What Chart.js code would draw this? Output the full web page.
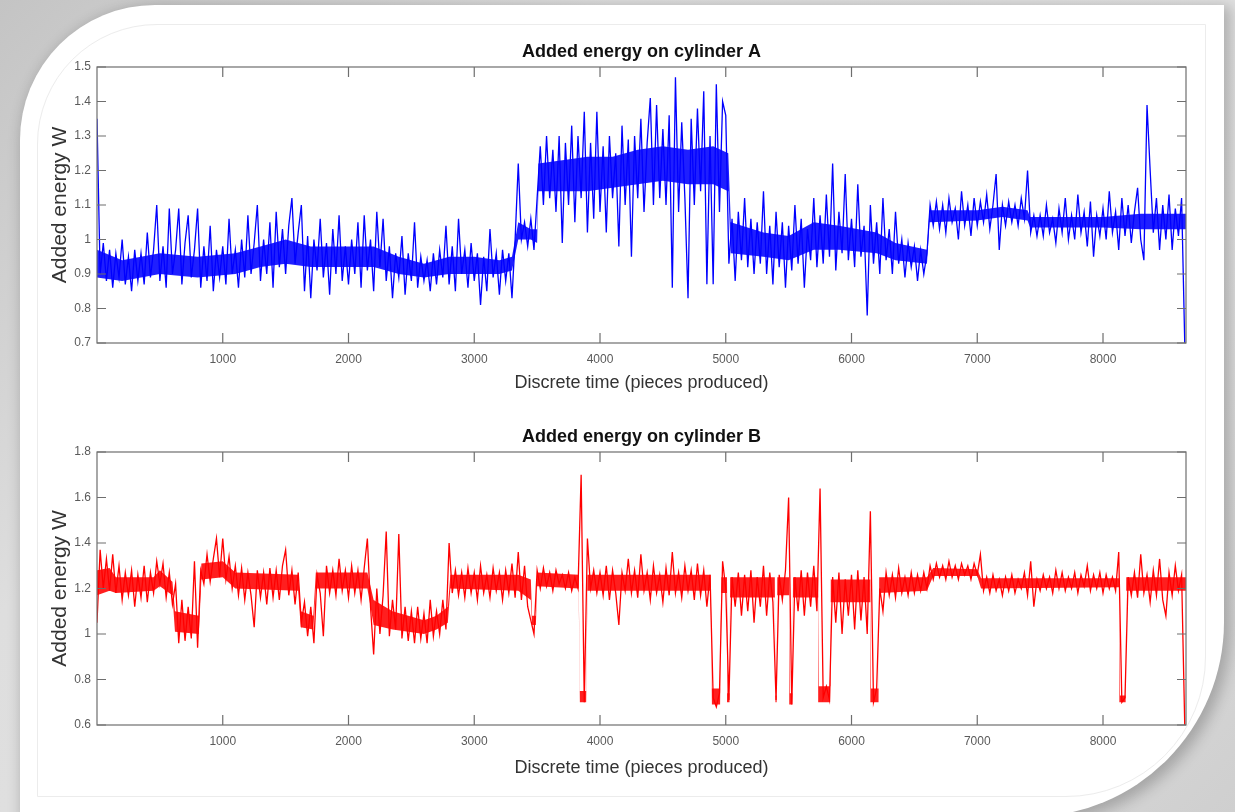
<!DOCTYPE html>
<html>
<head>
<meta charset="utf-8">
<script src="https://cdn.jsdelivr.net/npm/chart.js@4.4.1/dist/chart.umd.min.js"></script>
<style>
  html, body { margin: 0; padding: 0; }
  body {
    width: 1235px; height: 812px; overflow: hidden; position: relative;
    background: linear-gradient(135deg, #c4c4c4 0%, #dedede 30%, #e2e2e2 70%, #cfcfcf 100%);
  }
  .card {
    position: absolute; left: 20px; top: 5px; width: 1204px; height: 812px;
    background: #fff;
    border-radius: 135px 0 195px 0;
    box-shadow: 4px 4px 14px 3px rgba(0, 0, 0, 0.22);
  }
  .inner {
    position: absolute; left: 37px; top: 24px; width: 1167px; height: 771px;
    border: 1px solid #ececec; border-radius: 120px 0 140px 0;
  }
  canvas { position: absolute; left: 0; }
  #chartA { top: 0; }
  #chartB { top: 400px; }
</style>
</head>
<body>
<div class="card"></div>
<div class="inner"></div>
<canvas id="chartA" width="1235" height="400"></canvas>
<canvas id="chartB" width="1235" height="412"></canvas>
<script>
// one sample every 25 pieces
const sampleStep = 25;

const xTickValues = [1000, 2000, 3000, 4000, 5000, 6000, 7000, 8000];
const yTicksA = [0.7, 0.8, 0.9, 1.0, 1.1, 1.2, 1.3, 1.4, 1.5];
const yTicksB = [0.6, 0.8, 1.0, 1.2, 1.4, 1.6, 1.8];

// Added energy on cylinder A (samples incl. spikes)
const energyA = [
  1.35, 0.9, 0.99, 0.88, 0.97, 0.86, 0.96, 0.89, 1.0, 0.87,
  0.95, 0.85, 0.97, 0.88, 0.96, 0.87, 1.02, 0.89, 0.97, 1.1,
  0.88, 0.98, 0.86, 1.09, 0.9, 0.97, 1.09, 0.87, 0.99, 1.07,
  0.89, 0.97, 1.09, 0.86, 0.98, 0.88, 1.04, 0.85, 0.97, 0.89,
  0.98, 0.87, 1.06, 0.9, 0.97, 0.86, 1.0, 0.89, 1.07, 0.9,
  0.99, 1.1, 0.88, 1.0, 0.9, 1.05, 0.86, 1.08, 0.92, 1.03,
  0.9, 1.04, 1.12, 0.93, 1.02, 1.1, 0.85, 1.01, 0.83, 1.0,
  0.91, 1.06, 0.89, 0.99, 0.84, 1.03, 0.9, 1.07, 0.88, 0.98,
  0.87, 1.0, 0.9, 1.05, 0.86, 1.07, 0.91, 1.0, 0.85, 1.08,
  0.92, 1.06, 0.88, 0.98, 0.83, 0.96, 0.89, 1.01, 0.84, 0.96,
  0.88, 1.05, 0.86, 0.95, 0.88, 0.94, 0.85, 0.96, 0.87, 0.97,
  0.89, 1.04, 0.87, 0.98, 0.85, 1.06, 0.9, 0.97, 0.86, 0.99,
  0.88, 0.96, 0.81, 0.95, 0.85, 1.03, 0.89, 0.96, 0.84, 0.97,
  0.88, 0.96, 0.83, 1.0, 1.22, 1.0, 1.05, 0.98, 1.06, 0.97,
  1.12, 1.27, 1.1, 1.3, 1.12, 1.26, 1.08, 1.3, 0.99, 1.28,
  1.1, 1.33, 1.05, 1.3, 1.12, 1.37, 1.02, 1.28, 1.06, 1.37,
  1.08, 1.27, 1.02, 1.3, 1.12, 1.25, 0.98, 1.33, 1.1, 1.29,
  0.95, 1.3, 1.12, 1.35, 1.08, 1.28, 1.41, 1.1, 1.39, 1.12,
  1.32, 1.1, 1.36, 0.86, 1.47, 1.08, 1.34, 1.12, 0.83, 1.35,
  1.1, 1.38, 1.14, 1.43, 0.87, 1.3, 0.87, 1.45, 1.08, 1.4,
  1.36, 0.93, 1.06, 0.88, 1.08, 0.94, 1.12, 0.92, 1.06, 0.9,
  1.05, 0.93, 1.14, 0.9, 1.04, 0.87, 1.08, 0.92, 1.05, 0.86,
  1.04, 0.91, 1.1, 0.93, 1.06, 0.86, 1.03, 0.94, 1.12, 0.92,
  1.07, 0.93, 1.13, 0.95, 1.22, 0.91, 1.08, 0.96, 1.19, 0.94,
  1.06, 0.92, 1.16, 0.95, 1.04, 0.78, 1.1, 0.93, 1.05, 0.9,
  1.12, 0.94, 1.03, 0.9, 1.08, 0.93, 1.0, 0.89, 0.99, 0.92,
  0.98, 0.88, 0.97, 0.9, 0.96, 1.1, 1.04, 1.11, 1.03, 1.1,
  1.02, 1.12, 1.05, 1.09, 1.0, 1.14, 1.04, 1.1, 1.01, 1.12,
  1.04, 1.11, 1.05, 1.13, 1.03, 1.1, 1.19, 0.97, 1.1, 1.04,
  1.11, 1.05, 1.1, 1.04, 1.12, 1.06, 1.2, 1.02, 1.07, 1.01,
  1.07, 1.01, 1.1, 1.02, 1.06, 0.99, 1.09, 1.02, 1.12, 1.0,
  1.07, 1.0, 1.13, 1.02, 1.08, 0.98, 1.11, 0.95, 1.07, 1.01,
  1.09, 1.0, 1.14, 1.02, 1.08, 0.97, 1.12, 1.01, 1.1, 0.99,
  1.08, 1.15, 1.0, 0.94, 1.39, 1.2, 1.02, 1.12, 0.97, 1.1,
  1.0, 1.13, 0.97, 1.09, 1.01, 1.12, 0.7
];

// dense core of cylinder A: breakpoints with lower / upper edge
const coreXA = [
  0, 200, 500, 800, 1100, 1300, 1500, 1700, 2000, 2200, 2400, 2600, 2800, 3000,
  3200, 3300, 3350, 3450, 3500, 3510, 3700, 3900, 4100, 4300, 4500, 4700, 4900,
  5020, 5040, 5300, 5500, 5700, 5900, 6200, 6350, 6600, 6620, 7000, 7200, 7400,
  7420, 7700, 8000, 8300, 8660
];
const coreLowA = [
  0.89, 0.88, 0.9, 0.89, 0.9, 0.92, 0.93, 0.92, 0.92, 0.92, 0.9, 0.89, 0.9, 0.9,
  0.9, 0.91, 1.0, 1.0, 0.99, 1.14, 1.14, 1.14, 1.15, 1.16, 1.17, 1.16, 1.16,
  1.14, 0.96, 0.95, 0.94, 0.97, 0.97, 0.96, 0.94, 0.93, 1.05, 1.055, 1.065, 1.055,
  1.035, 1.035, 1.035, 1.03, 1.03
];
const coreHighA = [
  0.97, 0.94, 0.96, 0.95, 0.96, 0.98, 1.0, 0.98, 0.98, 0.98, 0.95, 0.93, 0.95, 0.95,
  0.94, 0.95, 1.05, 1.03, 1.03, 1.22, 1.23, 1.24, 1.24, 1.26, 1.27, 1.26, 1.27,
  1.25, 1.05, 1.02, 1.01, 1.05, 1.04, 1.02, 0.99, 0.97, 1.085, 1.085, 1.095, 1.085,
  1.065, 1.065, 1.065, 1.075, 1.075
];

// Added energy on cylinder B (samples incl. spikes and drops)
const energyB = [
  1.05, 1.37, 1.2, 1.33, 1.19, 1.35, 1.18, 1.3, 1.15, 1.27,
  1.17, 1.28, 1.12, 1.26, 1.16, 1.3, 1.14, 1.27, 1.18, 1.32,
  1.22, 1.31, 1.16, 1.27, 1.13, 1.22, 0.96, 1.15, 0.97, 1.12,
  0.98, 1.32, 0.94, 1.28, 1.22, 1.35, 1.23, 1.33, 1.42, 1.25,
  1.42, 1.24, 1.34, 1.2, 1.3, 1.17, 1.29, 1.15, 1.27, 1.17,
  1.03, 1.28, 1.16, 1.27, 1.13, 1.29, 1.16, 1.28, 1.15, 1.3,
  1.37, 1.17, 1.28, 1.13, 1.27, 1.05, 1.14, 0.99, 1.12, 0.96,
  1.26, 1.18, 0.99, 1.3, 1.18, 1.28, 1.17, 1.33, 1.19, 1.28,
  1.16, 1.3, 1.18, 1.28, 1.15, 1.29, 1.42, 1.12, 0.91, 1.2,
  1.0, 1.17, 1.45, 0.99, 1.15, 1.02, 1.44, 0.98, 1.12, 0.97,
  1.1, 0.96, 1.12, 0.98, 1.09, 0.96, 1.15, 0.99, 1.1, 1.0,
  1.15, 1.02, 1.4, 1.18, 1.28, 1.17, 1.27, 1.16, 1.29, 1.18,
  1.27, 1.15, 1.3, 1.18, 1.26, 1.16, 1.29, 1.19, 1.27, 1.15,
  1.28, 1.18, 1.31, 1.16, 1.36, 1.15, 1.3, 1.12, 1.06, 1.0,
  1.28, 1.2, 1.29, 1.21, 1.27, 1.19, 1.28, 1.22, 1.26, 1.2,
  1.27, 1.19, 1.25, 1.2, 1.7, 0.7, 1.42, 1.2, 1.28, 1.18,
  1.27, 1.17, 1.3, 1.15, 1.28, 1.18, 1.04, 1.27, 1.19, 1.33,
  1.18, 1.28, 1.16, 1.35, 1.19, 1.27, 1.15, 1.3, 1.18, 1.26,
  1.14, 1.29, 1.17, 1.36, 1.18, 1.27, 1.16, 1.3, 1.19, 1.28,
  1.15, 1.31, 1.17, 1.28, 1.12, 1.26, 0.72, 0.68, 0.74, 1.32,
  1.2, 0.71, 1.25, 1.12, 1.27, 1.08, 1.26, 1.1, 1.28, 1.05,
  1.25, 1.12, 1.3, 1.08, 1.27, 1.14, 0.71, 1.26, 1.15, 1.28,
  1.6, 0.69, 1.25, 1.1, 1.28, 1.08, 1.27, 1.12, 1.3, 1.1,
  1.64, 0.72, 0.77, 0.71, 1.25, 1.05, 1.27, 1.0, 1.24, 1.08,
  1.26, 1.02, 1.28, 1.06, 1.25, 1.0, 1.54, 0.7, 0.76, 1.2,
  1.1, 1.27, 1.17, 1.26, 1.16, 1.29, 1.18, 1.25, 1.17, 1.27,
  1.18, 1.26, 1.19, 1.27, 1.2, 1.3, 1.24, 1.31, 1.25, 1.3,
  1.24, 1.32, 1.25, 1.3, 1.24, 1.31, 1.26, 1.3, 1.24, 1.31,
  1.26, 1.35, 1.19, 1.25, 1.18, 1.26, 1.19, 1.24, 1.17, 1.25,
  1.19, 1.26, 1.18, 1.24, 1.2, 1.27, 1.17, 1.32, 1.12, 1.24,
  1.19, 1.26, 1.2, 1.25, 1.18, 1.28, 1.2, 1.27, 1.19, 1.25,
  1.2, 1.27, 1.18, 1.26, 1.21, 1.3, 1.19, 1.26, 1.2, 1.27,
  1.18, 1.26, 1.2, 1.25, 1.19, 1.36, 0.7, 0.72, 1.25, 1.17,
  1.27, 1.16, 1.35, 1.18, 1.26, 1.14, 1.28, 1.17, 1.33, 1.15,
  1.08, 1.27, 1.17, 1.3, 1.19, 1.26, 0.6
];

// dense core of cylinder B
const coreXB = [
  0, 100, 150, 450, 500, 600, 620, 810, 830, 1000, 1100, 1600, 1620, 1720, 1740,
  2150, 2200, 2350, 2600, 2700, 2790, 2810, 3350, 3450, 3460, 3490, 3500, 3830,
  3840, 3890, 3900, 4880, 4890, 4955, 4965, 5010, 5015, 5030, 5035, 5390, 5395,
  5405, 5410, 5505, 5510, 5530, 5535, 5735, 5740, 5830, 5835, 6150, 6155, 6215,
  6220, 6600, 6650, 7000, 7030, 8130, 8135, 8180, 8185, 8660
];
const coreLowB = [
  1.17, 1.19, 1.18, 1.19, 1.21, 1.17, 1.01, 1.0, 1.24, 1.25, 1.2, 1.19, 1.03, 1.02, 1.2,
  1.2, 1.04, 1.02, 1.0, 1.02, 1.05, 1.2, 1.19, 1.15, 1.04, 1.04, 1.21, 1.2,
  0.7, 0.7, 1.19, 1.19, 0.69, 0.69, 1.18, 1.18, 0.7, 0.7, 1.16, 1.16, 0.7,
  0.7, 1.17, 1.17, 0.69, 0.69, 1.16, 1.16, 0.7, 0.7, 1.14, 1.14, 0.7, 0.7,
  1.18, 1.19, 1.255, 1.255, 1.2, 1.205, 0.7, 0.7, 1.19, 1.19
];
const coreHighB = [
  1.28, 1.29, 1.25, 1.25, 1.28, 1.23, 1.1, 1.08, 1.31, 1.32, 1.27, 1.26, 1.1, 1.08, 1.27,
  1.27, 1.15, 1.1, 1.06, 1.08, 1.12, 1.26, 1.26, 1.24, 1.08, 1.08, 1.27, 1.26,
  0.75, 0.75, 1.26, 1.26, 0.76, 0.76, 1.25, 1.25, 0.74, 0.74, 1.25, 1.25, 0.73,
  0.73, 1.25, 1.25, 0.74, 0.74, 1.25, 1.25, 0.77, 0.77, 1.24, 1.24, 0.76, 0.76,
  1.25, 1.25, 1.29, 1.285, 1.245, 1.245, 0.73, 0.73, 1.25, 1.25
];

const fontFamily = '"Liberation Sans", Arial, Helvetica, sans-serif';

// MATLAB-like box with inward ticks on all four sides
const framePlugin = {
  id: "frame",
  afterDatasetsDraw(chart) {
    const { ctx, chartArea: a, scales: { x, y } } = chart;
    ctx.save();
    ctx.strokeStyle = "#6e6e6e";
    ctx.lineWidth = 1.2;
    ctx.strokeRect(a.left, a.top, a.right - a.left, a.bottom - a.top);
    ctx.beginPath();
    x.ticks.forEach((t) => {
      const px = x.getPixelForValue(t.value);
      ctx.moveTo(px, a.bottom);
      ctx.lineTo(px, a.bottom - 10);
      ctx.moveTo(px, a.top);
      ctx.lineTo(px, a.top + 10);
    });
    y.ticks.forEach((t) => {
      const py = y.getPixelForValue(t.value);
      ctx.moveTo(a.left, py);
      ctx.lineTo(a.left + 9, py);
      ctx.moveTo(a.right, py);
      ctx.lineTo(a.right - 9, py);
    });
    ctx.stroke();
    ctx.restore();
  },
};

function makeChart(canvasId, title, values, coreX, coreLow, coreHigh, color, fillColor, yMin, yMax, yTicks, box) {
  const points = values.map((v, i) => ({ x: i * sampleStep, y: v }));
  const low = coreX.map((x, i) => ({ x: x, y: coreLow[i] }));
  const high = coreX.map((x, i) => ({ x: x, y: coreHigh[i] }));
  return new Chart(document.getElementById(canvasId), {
    type: "line",
    data: {
      datasets: [
        {
          data: points,
          borderColor: color,
          borderWidth: 1.3,
          pointRadius: 0,
          tension: 0,
          fill: false,
          order: 0,
        },
        {
          data: low,
          borderWidth: 0,
          pointRadius: 0,
          tension: 0,
          fill: false,
          order: 2,
        },
        {
          data: high,
          backgroundColor: fillColor,
          borderWidth: 0,
          pointRadius: 0,
          tension: 0,
          fill: "-1",
          order: 1,
        },
      ],
    },
    options: {
      responsive: false,
      animation: false,
      events: [],
      layout: { padding: { left: 0, right: 49, top: 0, bottom: box.padBottom } },
      plugins: {
        legend: { display: false },
        tooltip: { enabled: false },
        title: {
          display: true,
          text: title,
          fullSize: false,
          color: "#111",
          font: { family: fontFamily, size: 18, weight: "bold" },
          padding: { top: box.titleTop, bottom: 4.2 },
        },
      },
      scales: {
        x: {
          type: "linear",
          min: 0,
          max: 8660,
          grid: { display: false, drawTicks: false },
          border: { display: false },
          afterBuildTicks: (scale) => {
            scale.ticks = xTickValues.map((v) => ({ value: v }));
          },
          afterFit: (scale) => {
            scale.height = box.xHeight;
          },
          ticks: {
            padding: 9,
            color: "#5a5a5a",
            font: { family: fontFamily, size: 12 },
            callback: (v) => String(v),
          },
          title: {
            display: true,
            text: "Discrete time (pieces produced)",
            color: "#333",
            font: { family: fontFamily, size: 18 },
            padding: { top: 0, bottom: 0 },
          },
        },
        y: {
          min: yMin,
          max: yMax,
          grid: { display: false, drawTicks: false },
          border: { display: false },
          afterBuildTicks: (scale) => {
            scale.ticks = yTicks.map((v) => ({ value: v }));
          },
          afterFit: (scale) => {
            scale.width = 97;
          },
          ticks: {
            padding: 6,
            color: "#5a5a5a",
            font: { family: fontFamily, size: 12 },
            callback: (v) => String(Math.round(v * 10) / 10),
          },
          title: {
            display: true,
            text: "Added energy W",
            color: "#333",
            font: { family: fontFamily, size: 21 },
            padding: { top: 47.4, bottom: 0 },
          },
        },
      },
    },
    plugins: [framePlugin],
  });
}

const chartA = makeChart("chartA", "Added energy on cylinder A", energyA, coreXA, coreLowA, coreHighA,
  "#0000ff", "rgba(0, 0, 255, 0.88)", 0.7, 1.5, yTicksA, { titleTop: 41.2, xHeight: 50.8, padBottom: 6.2 });
const chartB = makeChart("chartB", "Added energy on cylinder B", energyB, coreXB, coreLowB, coreHighB,
  "#ff0000", "rgba(255, 0, 0, 0.88)", 0.6, 1.8, yTicksB, { titleTop: 26.2, xHeight: 53.8, padBottom: 33.2 });
</script>
</body>
</html>
